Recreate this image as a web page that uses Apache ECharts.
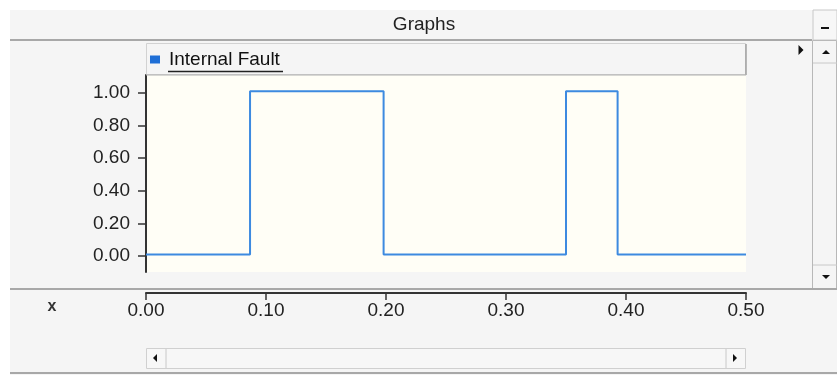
<!DOCTYPE html>
<html><head><meta charset="utf-8">
<script src="https://cdn.jsdelivr.net/npm/echarts@6/dist/echarts.min.js"></script>
<style>html,body{margin:0;padding:0;background:#fff}#c{width:837px;height:375px}</style>
</head><body><div id="c"></div>
<script>
// Data
const seriesName = 'Internal Fault';
const xTimes  = [0, 0.0867, 0.198, 0.35, 0.393, 0.5];
const yValues = [0.01, 1.01, 0.01, 1.01, 0.01, 0.01];
const yTicks  = [0, 0.2, 0.4, 0.6, 0.8, 1.0];
const xTickStep = 0.1;
const xMin = 0, xMax = 0.5;

const chart = echarts.init(document.getElementById('c'), null, {renderer:'canvas'});
const font = 'Liberation Sans, Arial, sans-serif';
const data = xTimes.map((x,i)=>[x,yValues[i]]);

function tri(cx, cy, dir, s){ // small triangles for chrome
  let pts;
  if(dir==='up') pts=[[cx-s,cy+s/2],[cx+s,cy+s/2],[cx,cy-s/2]];
  else if(dir==='down') pts=[[cx-s,cy-s/2],[cx+s,cy-s/2],[cx,cy+s/2]];
  else if(dir==='right') pts=[[cx-s/2,cy-s],[cx-s/2,cy+s],[cx+s/2,cy]];
  else pts=[[cx+s/2,cy-s],[cx+s/2,cy+s],[cx-s/2,cy]];
  return {type:'polygon', shape:{points:pts}, style:{fill:'#111'}, z:10};
}

chart.setOption({
  animation:false,
  backgroundColor:'#ffffff',
  graphic:[
    // panels
    {type:'rect', shape:{x:10,y:10,width:827,height:365}, style:{fill:'#f5f5f5'}, z:-10},
    {type:'line', shape:{x1:10,y1:40,x2:812,y2:40}, style:{stroke:'#a8a8a8',lineWidth:2}, z:1},
    {type:'text', style:{text:'Graphs', x:424, y:25, align:'center', verticalAlign:'middle', font:'19px '+font, fill:'#222'}, z:2},
    // minimize button
    {type:'rect', shape:{x:813,y:10,width:24,height:30}, style:{fill:'#f7f7f7', stroke:'#c8c8c8', lineWidth:1}, z:1},
    {type:'rect', shape:{x:821,y:27,width:8,height:2}, style:{fill:'#111'}, z:2},
    // legend box
    {type:'rect', shape:{x:146.5,y:43.5,width:599,height:31}, style:{fill:'#f5f5f5', stroke:'#d2d2d2', lineWidth:1}, z:1},
    {type:'line', shape:{x1:746,y1:44,x2:746,y2:75}, style:{stroke:'#a0a0a0',lineWidth:1.5}, z:2},
    {type:'line', shape:{x1:146,y1:75,x2:746,y2:75}, style:{stroke:'#b0b0b0',lineWidth:1}, z:2},
    {type:'line', shape:{x1:168,y1:71.5,x2:283,y2:71.5}, style:{stroke:'#222',lineWidth:1.5}, z:5},
    // right arrow marker
    tri(801,50,'right',5),
    // vertical scrollbar
    {type:'rect', shape:{x:812.5,y:40.5,width:24,height:248}, style:{fill:'#f5f5f5', stroke:'#b8b8b8', lineWidth:1}, z:1},
    {type:'line', shape:{x1:813,y1:63,x2:837,y2:63}, style:{stroke:'#c8c8c8',lineWidth:1}, z:2},
    {type:'line', shape:{x1:813,y1:265,x2:837,y2:265}, style:{stroke:'#c8c8c8',lineWidth:1}, z:2},
    tri(826,52,'up',4),
    tri(826,277,'down',4),
    // bottom separator
    {type:'line', shape:{x1:10,y1:289,x2:837,y2:289}, style:{stroke:'#a8a8a8',lineWidth:2}, z:1},
    {type:'text', style:{text:'x', x:52, y:307, align:'center', verticalAlign:'middle', font:'bold 16px '+font, fill:'#333'}, z:2},
    // horizontal scrollbar
    {type:'rect', shape:{x:146.5,y:348.5,width:599,height:20}, style:{fill:'#f7f7f7', stroke:'#d0d0d0', lineWidth:1}, z:1},
    {type:'line', shape:{x1:166,y1:349,x2:166,y2:368}, style:{stroke:'#c8c8c8',lineWidth:1}, z:2},
    {type:'line', shape:{x1:726,y1:349,x2:726,y2:368}, style:{stroke:'#c8c8c8',lineWidth:1}, z:2},
    tri(155,358,'left',4),
    tri(735,358,'right',4),
    {type:'line', shape:{x1:10,y1:373,x2:837,y2:373}, style:{stroke:'#a8a8a8',lineWidth:2}, z:1}
  ],
  legend:{
    data:[seriesName], left:150, top:50, padding:0, icon:'rect', itemWidth:10, itemHeight:8, itemGap:8,
    textStyle:{fontFamily:font, fontSize:19, color:'#111', padding:[0,0,0,4]}
  },
  grid:{left:146, right:91, top:75, height:197, show:true, backgroundColor:'#fffef6', borderWidth:0},
  xAxis:{
    type:'value', min:xMin, max:xMax, interval:xTickStep, position:'bottom', offset:21,
    axisLine:{show:true, onZero:false, lineStyle:{color:'#333', width:2}},
    axisTick:{show:true, inside:false, length:7, lineStyle:{color:'#333', width:1.5}},
    axisLabel:{show:true, margin:8, fontFamily:font, fontSize:19, color:'#222', formatter:v=>v.toFixed(2)},
    splitLine:{show:false}
  },
  yAxis:{
    type:'value', min:-0.098, max:1.11,
    axisLine:{show:true, onZero:false, lineStyle:{color:'#333', width:2}},
    axisTick:{show:true, length:8, customValues:yTicks, lineStyle:{color:'#333', width:1.5}},
    axisLabel:{show:true, margin:16, fontFamily:font, fontSize:19, color:'#222', customValues:yTicks, formatter:v=>v.toFixed(2)},
    splitLine:{show:false}
  },
  series:[{
    name:seriesName, type:'line', step:'end', data:data, symbol:'none',
    color:'#1f6fd6',
    lineStyle:{color:'#3d8ae0', width:2}
  }]
});
</script></body></html>
